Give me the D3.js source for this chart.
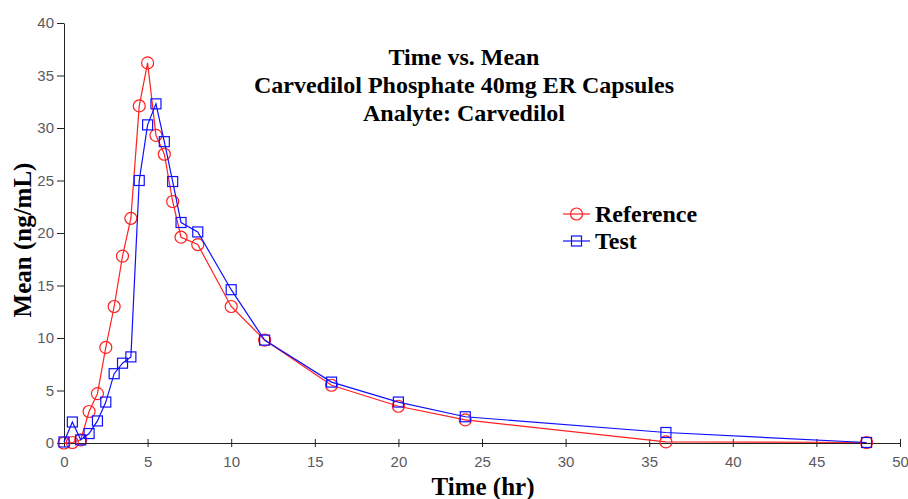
<!DOCTYPE html>
<html>
<head>
<meta charset="utf-8">
<script src="https://cdn.jsdelivr.net/npm/d3@7"></script>
<style>
body { margin: 0; background: #fff; }
</style>
</head>
<body>
<svg></svg>
<script>
var width = 908,
    height = 499;

var times = [0, 0.5, 1, 1.5, 2, 2.5, 3, 3.5, 4, 4.5, 5, 5.5, 6, 6.5, 7, 8, 10, 12, 16, 20, 24, 36, 48];
var reference = [0, 0.05, 0.3, 3.0, 4.7, 9.1, 13.0, 17.8, 21.4, 32.1, 36.2, 29.3, 27.5, 23.0, 19.6, 18.9, 13.0, 9.8, 5.5, 3.5, 2.2, 0.1, 0.05];
var test = [0.1, 2.0, 0.3, 0.9, 2.1, 3.9, 6.6, 7.6, 8.2, 25.0, 30.3, 32.3, 28.7, 24.9, 21.0, 20.1, 14.6, 9.8, 5.8, 3.9, 2.5, 1.0, 0.05];
var xTicks = [0, 5, 10, 15, 20, 25, 30, 35, 40, 45, 50];
var yTicks = [0, 5, 10, 15, 20, 25, 30, 35, 40];
var titleLines = ["Time vs. Mean", "Carvedilol Phosphate 40mg ER Capsules", "Analyte: Carvedilol"];

var x = d3.scaleLinear().domain([0, 50]).range([64, 900]);
var y = d3.scaleLinear().domain([0, 40]).range([443, 23]);

var serif = "'Liberation Serif', 'Times New Roman', serif";
var svg = d3.select("svg").attr("width", width).attr("height", height);

// axes
var xAxis = svg.append("g")
    .attr("transform", "translate(0," + y(0) + ")")
    .call(d3.axisBottom(x).tickValues(xTicks).tickSize(5).tickSizeOuter(0));
xAxis.selectAll(".tick line").attr("y1", -4).attr("y2", 4);
var yAxis = svg.append("g")
    .attr("transform", "translate(" + x(0) + ",0)")
    .call(d3.axisLeft(y).tickValues(yTicks).tickSize(7).tickSizeOuter(0));

svg.selectAll(".domain").attr("stroke", "#222");
svg.selectAll(".tick line").attr("stroke", "#222");
svg.selectAll(".tick text")
    .attr("fill", "#5a5a60")
    .style("font-family", "Arial, 'Liberation Sans', sans-serif")
    .style("font-size", "15px");
xAxis.selectAll(".tick text").attr("y", 12).attr("dy", "0.8em");
yAxis.selectAll(".tick text").attr("x", -10);

// axis titles
svg.append("text")
    .attr("x", 483).attr("y", 495)
    .attr("text-anchor", "middle")
    .style("font-family", serif)
    .style("font-weight", "bold").style("font-size", "25px")
    .text("Time (hr)");
svg.append("text")
    .attr("transform", "translate(31,240) rotate(-90)")
    .attr("text-anchor", "middle")
    .style("font-family", serif)
    .style("font-weight", "bold").style("font-size", "25px")
    .text("Mean (ng/mL)");

// title
svg.append("g").selectAll("text").data(titleLines)
    .enter().append("text")
    .attr("x", 464)
    .attr("y", function(d, i) { return 65 + i * 28; })
    .attr("text-anchor", "middle")
    .style("font-family", serif)
    .style("font-weight", "bold").style("font-size", "24px")
    .text(function(d) { return d; });

// series
var line = d3.line()
    .x(function(d) { return x(d[0]); })
    .y(function(d) { return y(d[1]); });

var refData = times.map(function(t, i) { return [t, reference[i]]; });
var testData = times.map(function(t, i) { return [t, test[i]]; });

svg.append("path").datum(refData)
    .attr("d", line).attr("fill", "none")
    .attr("stroke", "#ff2020").attr("stroke-width", 1.2);
svg.selectAll(".refpt").data(refData)
    .enter().append("circle")
    .attr("cx", function(d) { return x(d[0]); })
    .attr("cy", function(d) { return y(d[1]); })
    .attr("r", 6)
    .attr("fill", "none").attr("stroke", "#ff2020").attr("stroke-width", 1.2);

svg.append("path").datum(testData)
    .attr("d", line).attr("fill", "none")
    .attr("stroke", "#1010ff").attr("stroke-width", 1.2);
svg.selectAll(".testpt").data(testData)
    .enter().append("rect")
    .attr("x", function(d) { return x(d[0]) - 5; })
    .attr("y", function(d) { return y(d[1]) - 5; })
    .attr("width", 10).attr("height", 10)
    .attr("fill", "none").attr("stroke", "#1010ff").attr("stroke-width", 1.2);

// legend
var legend = svg.append("g").attr("transform", "translate(563,214)");
legend.append("line").attr("x1", 0).attr("x2", 27).attr("y1", 0).attr("y2", 0)
    .attr("stroke", "#ff2020").attr("stroke-width", 1.2);
legend.append("circle").attr("cx", 13.5).attr("cy", 0).attr("r", 6)
    .attr("fill", "none").attr("stroke", "#ff2020").attr("stroke-width", 1.2);
legend.append("line").attr("x1", 0).attr("x2", 27).attr("y1", 27).attr("y2", 27)
    .attr("stroke", "#1010ff").attr("stroke-width", 1.2);
legend.append("rect").attr("x", 8.5).attr("y", 22).attr("width", 10).attr("height", 10)
    .attr("fill", "none").attr("stroke", "#1010ff").attr("stroke-width", 1.2);
legend.selectAll("text").data(["Reference", "Test"])
    .enter().append("text")
    .attr("x", 32)
    .attr("y", function(d, i) { return 8 + i * 27; })
    .style("font-family", serif)
    .style("font-weight", "bold").style("font-size", "24px")
    .text(function(d) { return d; });
</script>
</body>
</html>
